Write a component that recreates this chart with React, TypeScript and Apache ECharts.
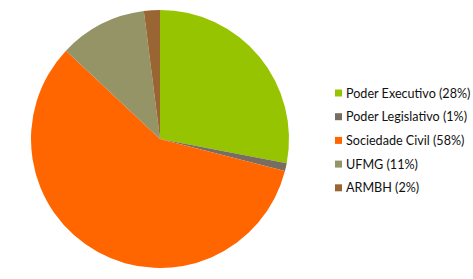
import React, { useEffect, useRef } from "react";
import * as echarts from "echarts";

const categories = ["Poder Executivo", "Poder Legislativo", "Sociedade Civil", "UFMG", "ARMBH"];
const values = [28, 1, 58, 11, 2];
const colors = ["#96C400", "#776D60", "#FF6600", "#949466", "#996633"];

export default function App() {
  const ref = useRef<HTMLDivElement>(null);
  useEffect(() => {
    if (!ref.current) return;
    const chart = echarts.init(ref.current, undefined, { renderer: "svg" });
    const pctMap: Record<string, number> = {};
    categories.forEach((c, i) => (pctMap[c] = values[i]));
    chart.setOption({
      animation: false,
      color: colors,
      legend: {
        orient: "vertical",
        left: 330,
        top: 81,
        itemWidth: 7,
        itemHeight: 7,
        itemGap: 9.7,
        icon: "rect",
        textStyle: { fontFamily: "Lato", fontSize: 12.6, color: "#111", lineHeight: 14, padding: [0, 0, 0, -1] },
        formatter: (name: string) => `${name} (${pctMap[name]}%)`,
        data: categories,
      },
      series: [
        {
          type: "pie",
          center: [160, 139],
          radius: 129,
          startAngle: 90,
          clockwise: true,
          label: { show: false },
          labelLine: { show: false },
          emphasis: { disabled: true },
          data: categories.map((c, i) => ({ name: c, value: values[i] })),
        },
      ],
    });
    return () => chart.dispose();
  }, []);
  return <div ref={ref} style={{ width: 473, height: 279, position: "absolute", left: 0, top: 0 }} />;
}
